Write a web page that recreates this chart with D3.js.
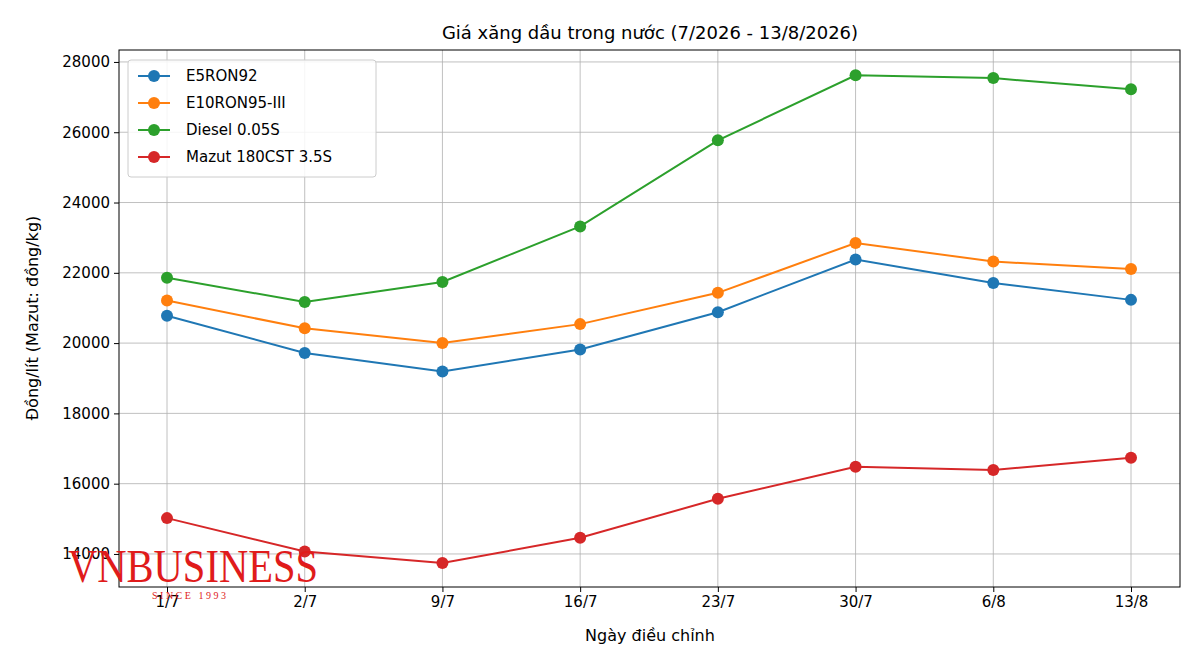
<!DOCTYPE html>
<html><head><meta charset="utf-8">
<script src="https://cdn.jsdelivr.net/npm/d3@7"></script>
<style>body{margin:0;background:#fff}text{font-family:"DejaVu Sans",sans-serif}</style>
</head><body><svg id="c" width="1200" height="667"></svg>
<script>
const categories=["1/7","2/7","9/7","16/7","23/7","30/7","6/8","13/8"];
const e5=[20780,19720,19190,19820,20880,22380,21710,21230];
const e10=[21210,20420,20000,20540,21430,22850,22320,22110];
const diesel=[21860,21170,21740,23320,25770,27620,27540,27220];
const mazut=[15020,14070,13740,14460,15570,16480,16390,16740];
const yTicks=[14000,16000,18000,20000,22000,24000,26000,28000];
const series=[
 {name:"E5RON92",v:e5,c:"#1f77b4"},
 {name:"E10RON95-III",v:e10,c:"#ff7f0e"},
 {name:"Diesel 0.05S",v:diesel,c:"#2ca02c"},
 {name:"Mazut 180CST 3.5S",v:mazut,c:"#d62728"}];
const L=119,R=1180,T=50,B=587;
const svg=d3.select("#c");
const x=d3.scalePoint().domain(categories).range([167,1131]);
const y=d3.scaleLinear().domain([13060,28340]).range([B,T]);
const g=svg.append("g");
g.selectAll(".gx").data(categories).enter().append("line").attr("x1",d=>x(d)).attr("x2",d=>x(d)).attr("y1",T).attr("y2",B).attr("stroke","#b0b0b0").attr("stroke-width",0.8);
g.selectAll(".gy").data(yTicks).enter().append("line").attr("x1",L).attr("x2",R).attr("y1",d=>y(d)).attr("y2",d=>y(d)).attr("stroke","#b0b0b0").attr("stroke-width",0.8);
const xa=svg.append("g").attr("transform",`translate(0,${B})`).call(d3.axisBottom(x).tickSize(5).tickPadding(4));
const ya=svg.append("g").attr("transform",`translate(${L},0)`).call(d3.axisLeft(y).tickValues(yTicks).tickFormat(d3.format("d")).tickSize(5).tickPadding(4));
[xa,ya].forEach(a=>{a.select(".domain").remove();a.selectAll("text").attr("font-size",15).attr("fill","#000");});
svg.append("rect").attr("x",L).attr("y",T).attr("width",R-L).attr("height",B-T).attr("fill","none").attr("stroke","#000").attr("stroke-width",1);
const line=d3.line().x((d,i)=>x(categories[i])).y(d=>y(d));
series.forEach(s=>{
 svg.append("path").attr("d",line(s.v)).attr("fill","none").attr("stroke",s.c).attr("stroke-width",2);
 svg.selectAll(null).data(s.v).enter().append("circle").attr("cx",(d,i)=>x(categories[i])).attr("cy",d=>y(d)).attr("r",6).attr("fill",s.c);
});
svg.append("text").attr("x",68).attr("y",582).style("font-family","'Liberation Serif',serif").attr("font-size",46).attr("fill","#e01b1b").attr("textLength",250).attr("lengthAdjust","spacingAndGlyphs").text("VNBUSINESS");
svg.append("text").attr("x",152).attr("y",599).style("font-family","'Liberation Serif',serif").attr("font-size",10).attr("fill","#e01b1b").attr("letter-spacing",2.5).text("SINCE 1993");
const lg=svg.append("g");
lg.append("rect").attr("x",128).attr("y",60).attr("width",248).attr("height",117).attr("rx",3).attr("fill","#fff").attr("fill-opacity",0.85).attr("stroke","#ccc");
series.forEach((s,i)=>{
 const yy=76+i*27;
 lg.append("line").attr("x1",138).attr("x2",170).attr("y1",yy).attr("y2",yy).attr("stroke",s.c).attr("stroke-width",2);
 lg.append("circle").attr("cx",154).attr("cy",yy).attr("r",6).attr("fill",s.c);
 lg.append("text").attr("x",186).attr("y",yy+5).attr("font-size",15).text(s.name);
});
svg.append("text").attr("x",650).attr("y",39).attr("text-anchor","middle").attr("font-size",18).text("Giá xăng dầu trong nước (7/2026 - 13/8/2026)");
svg.append("text").attr("x",650).attr("y",641).attr("text-anchor","middle").attr("font-size",16).text("Ngày điều chỉnh");
svg.append("text").attr("transform","translate(38,318) rotate(-90)").attr("text-anchor","middle").attr("font-size",16).text("Đồng/lít (Mazut: đồng/kg)");
</script></body></html>
